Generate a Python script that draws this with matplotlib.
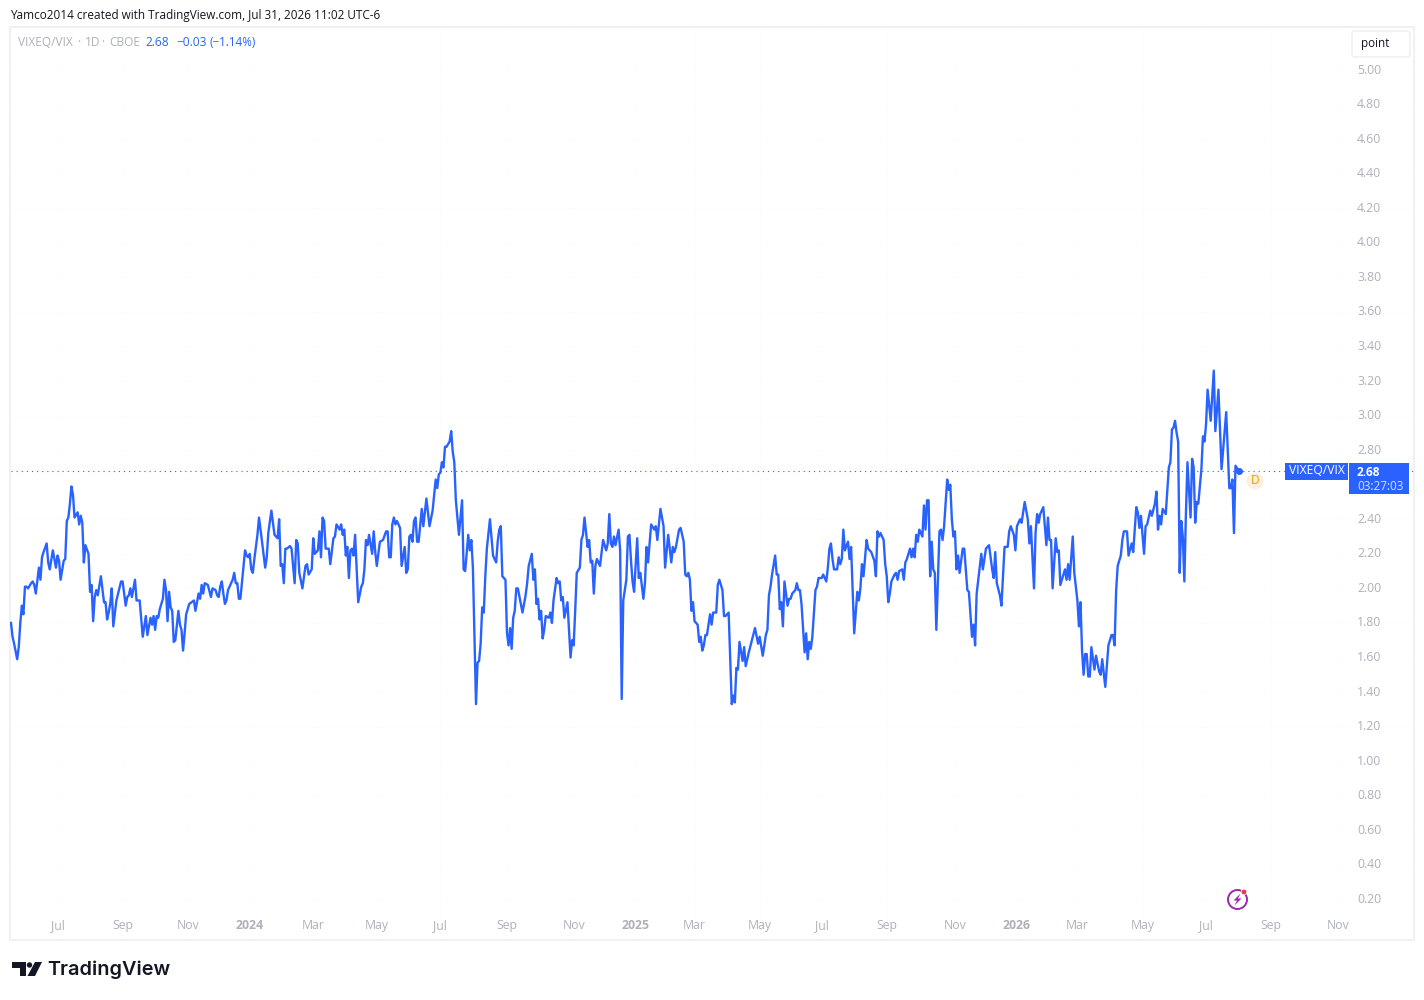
import numpy as np
from matplotlib import pyplot as plt
from matplotlib.patches import Rectangle, FancyBboxPatch, Circle, Polygon

plt.rcParams['font.family'] = ['Open Sans', 'DejaVu Sans']

# values, session number = trading days since the first bar
sessions_a = [
    0, 1, 2, 4, 5, 6, 7, 8, 9, 10,
    11, 13, 14, 15, 16, 18, 19, 20, 21, 23,
    24, 25, 27, 29, 30, 31, 32, 34, 35, 36,
    37, 38, 39, 40, 41, 43, 44, 45, 46, 47,
    48, 50, 51, 52, 53, 54, 55, 56, 58, 60,
    61, 62, 63, 64, 65, 66, 68, 71, 72, 74,
    75, 76, 77, 78, 80, 81, 83, 85, 87, 88,
    90, 91, 92, 93, 94, 95, 96, 98, 99, 100,
    101, 102, 103, 104, 105, 106, 108, 109, 110, 111,
    112, 113, 115, 118, 119, 121, 122, 123, 124, 125,
    127, 129, 130, 132, 133, 134, 135, 136, 137, 138,
    139, 140, 143, 144, 145, 146, 147, 148, 151, 152,
    153, 154, 155, 156, 157, 158, 159, 160, 161, 163,
    164, 165, 166, 168, 170, 171, 172, 173, 174, 175,
    176, 177, 178, 180, 181, 183, 184, 185, 186, 188,
    190, 191, 192, 194, 195, 196, 198, 199, 200, 201,
    202, 203, 205, 206, 208, 209, 210, 212, 213, 214,
    215, 216, 217, 218, 219, 220, 221, 222, 224, 226,
    227, 228, 229, 230, 231, 233, 234, 235, 236, 238,
    240, 242, 243, 244, 245, 246, 247, 248, 249, 251,
    252, 254, 255, 256, 257, 258, 259, 260, 261, 262,
    263, 265, 266, 268, 270, 272, 274, 275, 276, 277,
    278, 279, 280, 281, 283, 284, 285, 286, 287, 289,
    291, 292, 293, 295, 296, 297, 298, 300, 301, 302,
]
close_a = [
    1.80, 1.72, 1.68, 1.59, 1.66, 1.80, 1.90, 1.85, 2.01, 2.01,
    2.00, 2.03, 2.04, 2.02, 1.97, 2.12, 2.05, 2.18, 2.21, 2.26,
    2.15, 2.11, 2.22, 2.12, 2.19, 2.16, 2.05, 2.16, 2.17, 2.39,
    2.41, 2.49, 2.59, 2.54, 2.41, 2.44, 2.37, 2.42, 2.38, 2.15,
    2.25, 2.20, 1.98, 2.02, 1.81, 1.95, 1.99, 1.96, 2.07, 1.92,
    1.92, 1.82, 1.86, 1.91, 2.00, 1.78, 1.93, 2.04, 2.04, 1.90,
    1.95, 1.96, 2.00, 1.95, 2.05, 1.93, 1.93, 1.72, 1.84, 1.73,
    1.83, 1.79, 1.84, 1.76, 1.84, 1.83, 1.88, 1.94, 2.05, 1.99,
    1.81, 1.98, 1.89, 1.87, 1.69, 1.70, 1.87, 1.79, 1.76, 1.64,
    1.74, 1.85, 1.91, 1.93, 1.87, 1.97, 1.94, 2.02, 1.97, 2.03,
    2.02, 1.95, 2.00, 1.99, 1.96, 1.95, 2.01, 2.04, 1.97, 1.91,
    1.93, 1.99, 2.05, 2.09, 2.03, 2.03, 1.94, 1.94, 2.22, 2.19,
    2.18, 2.20, 2.11, 2.09, 2.17, 2.24, 2.31, 2.41, 2.34, 2.19,
    2.12, 2.18, 2.32, 2.45, 2.31, 2.30, 2.29, 2.40, 2.13, 2.14,
    2.03, 2.23, 2.23, 2.245, 2.23, 2.03, 2.28, 2.26, 2.09, 2.00,
    2.13, 2.14, 2.08, 2.11, 2.29, 2.20, 2.22, 2.33, 2.18, 2.41,
    2.39, 2.23, 2.23, 2.14, 2.29, 2.30, 2.37, 2.34, 2.37, 2.31,
    2.34, 2.19, 2.24, 2.06, 2.22, 2.23, 2.19, 2.31, 1.92, 2.01,
    2.03, 2.11, 2.28, 2.25, 2.31, 2.20, 2.33, 2.21, 2.13, 2.27,
    2.28, 2.33, 2.33, 2.18, 2.18, 2.37, 2.41, 2.37, 2.39, 2.35,
    2.13, 2.24, 2.09, 2.11, 2.30, 2.31, 2.27, 2.39, 2.41, 2.27,
    2.27, 2.46, 2.36, 2.52, 2.36, 2.45, 2.63, 2.58, 2.66, 2.67,
    2.73, 2.70, 2.82, 2.82, 2.85, 2.91, 2.79, 2.73, 2.51, 2.31,
    2.51, 2.11, 2.10, 2.31, 2.22, 2.28, 2.12, 1.33, 1.57, 1.58,
]

sessions_b = [
    303, 304, 305, 306, 307, 309, 311, 313, 314, 315,
    316, 317, 319, 320, 321, 322, 323, 324, 325, 326,
    327, 330, 332, 333, 334, 336, 337, 338, 339, 340,
    341, 342, 343, 344, 345, 347, 348, 349, 350, 352,
    353, 354, 355, 356, 357, 359, 361, 362, 363, 364,
    365, 367, 368, 369, 370, 372, 373, 374, 375, 376,
    377, 378, 380, 382, 383, 384, 385, 386, 387, 388,
    389, 390, 392, 393, 394, 395, 397, 398, 399, 400,
    401, 402, 404, 405, 406, 408, 409, 410, 411, 413,
    415, 416, 417, 419, 421, 422, 424, 426, 427, 428,
    429, 431, 432, 434, 435, 436, 437, 438, 439, 440,
    441, 443, 444, 445, 446, 447, 448, 449, 451, 452,
    453, 455, 456, 457, 459, 460, 461, 463, 465, 466,
    467, 468, 469, 470, 472, 473, 474, 476, 478, 480,
    482, 483, 485, 487, 488, 489, 490, 491, 493, 494,
    495, 496, 497, 498, 499, 501, 502, 503, 504, 506,
]
close_b = [
    1.68, 1.89, 1.86, 2.07, 2.23, 2.40, 2.19, 2.15, 2.27, 2.34,
    2.36, 2.07, 2.05, 1.74, 1.67, 1.77, 1.65, 1.83, 1.87, 2.00,
    2.00, 1.86, 1.96, 2.03, 2.13, 2.20, 2.05, 2.11, 1.91, 1.94,
    1.82, 1.87, 1.71, 1.76, 1.84, 1.83, 1.86, 1.80, 1.93, 2.06,
    2.03, 2.04, 1.93, 1.95, 1.83, 1.92, 1.60, 1.70, 1.67, 1.87,
    2.09, 2.12, 2.28, 2.31, 2.41, 2.24, 2.28, 2.15, 2.16, 1.97,
    2.13, 2.17, 2.13, 2.28, 2.25, 2.22, 2.26, 2.43, 2.26, 2.24,
    2.30, 2.25, 2.34, 2.22, 1.36, 1.93, 2.05, 2.30, 2.31, 2.16,
    2.04, 1.98, 2.29, 2.06, 2.09, 1.94, 2.03, 2.24, 2.15, 2.37,
    2.34, 2.36, 2.28, 2.46, 2.36, 2.12, 2.31, 2.15, 2.24, 2.21,
    2.24, 2.34, 2.35, 2.27, 2.08, 2.07, 2.09, 2.05, 1.87, 1.92,
    1.81, 1.79, 1.69, 1.72, 1.64, 1.67, 1.73, 1.73, 1.85, 1.79,
    1.86, 1.86, 2.02, 2.05, 1.99, 1.84, 1.84, 1.86, 1.33, 1.38,
    1.34, 1.54, 1.53, 1.69, 1.58, 1.66, 1.55, 1.63, 1.70, 1.77,
    1.68, 1.72, 1.61, 1.73, 1.76, 1.96, 2.01, 2.08, 2.19, 2.08,
    2.08, 1.88, 1.92, 1.78, 2.04, 1.90, 1.94, 1.94, 1.97, 1.99,
]

sessions_c = [
    507, 508, 509, 510, 512, 513, 514, 515, 516, 517,
    519, 520, 521, 523, 524, 526, 527, 528, 529, 530,
    531, 533, 534, 535, 536, 537, 538, 540, 541, 542,
    544, 546, 547, 548, 549, 550, 552, 553, 555, 557,
    558, 559, 560, 561, 563, 564, 565, 566, 567, 568,
    570, 571, 572, 573, 575, 576, 577, 578, 580, 581,
    582, 583, 584, 585, 586, 588, 589, 590, 591, 592,
    593, 594, 595, 596, 597, 599, 600, 601, 602, 604,
    605, 606, 607, 608, 609, 610, 611, 612, 614, 615,
    617, 618, 620, 621, 622, 623, 625, 626, 627, 629,
    631, 633, 634, 635, 636, 638, 639, 641, 643, 644,
    645, 647, 648, 649, 651, 652, 654, 656, 657, 658,
    660, 661, 662, 663, 664, 666, 668, 669, 670, 671,
    672, 674, 675, 676, 677, 680, 681, 682, 683, 685,
    686, 688, 689, 690, 691, 692, 693, 694, 695, 696,
]
close_c = [
    2.03, 1.99, 1.99, 1.91, 1.63, 1.74, 1.59, 1.69, 1.65, 1.72,
    1.99, 2.01, 2.06, 2.06, 2.08, 2.04, 2.12, 2.23, 2.26, 2.17,
    2.11, 2.11, 2.18, 2.14, 2.17, 2.34, 2.22, 2.27, 2.17, 2.24,
    1.74, 1.98, 1.93, 2.00, 2.14, 2.07, 2.28, 2.23, 2.21, 2.16,
    2.07, 2.33, 2.30, 2.32, 2.28, 2.14, 2.07, 1.92, 1.97, 2.04,
    2.08, 2.09, 2.05, 2.10, 2.11, 2.05, 2.15, 2.17, 2.23, 2.18,
    2.23, 2.18, 2.31, 2.27, 2.34, 2.30, 2.48, 2.34, 2.51, 2.51,
    2.07, 2.27, 2.11, 2.09, 1.76, 2.33, 2.34, 2.28, 2.36, 2.63,
    2.57, 2.60, 2.40, 2.30, 2.33, 2.11, 2.19, 2.09, 2.23, 2.23,
    1.99, 1.98, 1.72, 1.79, 1.67, 1.97, 2.12, 2.20, 2.11, 2.23,
    2.25, 2.11, 2.06, 2.21, 2.03, 1.96, 1.90, 2.24, 2.24, 2.33,
    2.36, 2.31, 2.22, 2.36, 2.40, 2.38, 2.50, 2.40, 2.26, 2.36,
    2.00, 2.32, 2.43, 2.38, 2.43, 2.47, 2.25, 2.41, 2.28, 2.28,
    2.00, 2.29, 2.21, 2.22, 2.02, 2.11, 2.05, 2.14, 2.05, 2.30,
    2.09, 1.93, 1.78, 1.92, 1.64, 1.50, 1.62, 1.62, 1.49, 1.49,
]

sessions_d = [
    697, 699, 700, 702, 703, 704, 706, 708, 710, 711,
    712, 713, 714, 716, 717, 718, 720, 721, 723, 724,
    726, 727, 728, 729, 731, 732, 733, 735, 736, 738,
    739, 740, 741, 742, 743, 745, 746, 747, 748, 749,
    750, 751, 752, 753, 754, 755, 756, 757, 758, 759,
    761, 762, 763, 764, 765, 766, 768, 769, 770, 771,
    772, 774, 776, 777, 779, 781, 784, 786, 787, 788,
    789, 790, 792,
]
close_d = [
    1.66, 1.53, 1.61, 1.52, 1.50, 1.59, 1.43, 1.67, 1.73, 1.73,
    1.67, 1.99, 2.13, 2.19, 2.28, 2.33, 2.33, 2.19, 2.26, 2.21,
    2.47, 2.44, 2.35, 2.42, 2.20, 2.36, 2.37, 2.45, 2.42, 2.49,
    2.56, 2.34, 2.42, 2.37, 2.46, 2.43, 2.57, 2.70, 2.73, 2.92,
    2.93, 2.97, 2.90, 2.85, 2.09, 2.39, 2.30, 2.04, 2.43, 2.73,
    2.41, 2.75, 2.70, 2.38, 2.50, 2.49, 2.69, 2.88, 2.85, 2.95,
    3.15, 2.97, 3.26, 2.91, 3.15, 2.69, 3.02, 2.58, 2.58, 2.63,
    2.32, 2.71, 2.68,
]

# 2.60 is covered by the last price label on the chart, so it has no text
price_ticks = [0.20, 0.40, 0.60, 0.80, 1.00, 1.20, 1.40, 1.60, 1.80, 2.00, 2.20, 2.40,
               2.80, 3.00, 3.20, 3.40, 3.60, 3.80, 4.00, 4.20, 4.40, 4.60, 4.80, 5.00]
time_ticks = [30, 72, 114, 154, 195, 236, 277, 320, 363, 403, 441,
              483, 523, 565, 609, 649, 688, 730, 771, 813, 856]
time_labels = ['Jul', 'Sep', 'Nov', '2024', 'Mar', 'May', 'Jul', 'Sep', 'Nov', '2025', 'Mar',
               'May', 'Jul', 'Sep', 'Nov', '2026', 'Mar', 'May', 'Jul', 'Sep', 'Nov']
last_price = 2.68

sessions = np.array(sessions_a + sessions_b + sessions_c + sessions_d)
closes = np.array(close_a + close_b + close_c + close_d)

BLUE = '#2962ff'
GRAY = '#aeb1ba'
DARK = '#131722'

W, H = 1424, 1000
fig = plt.figure(figsize=(W / 100, H / 100), dpi=100)

# chart pane, frame at x 10-1414 and y 27-940
ax = fig.add_axes([10 / W, 1 - 940 / H, 1404 / W, 913 / H])
ax.set_xlim((10 - 11) / 1.55, (1414 - 11) / 1.55)
ax.set_ylim(-0.035, 5.249)
ax.plot(sessions, closes, color=BLUE, lw=1.7, solid_joinstyle='round', zorder=3)
ax.plot(sessions[-1], last_price, 'o', color=BLUE, ms=4, zorder=4)
ax.plot([sessions[0], 1229], [last_price, last_price], color=BLUE, lw=0.8,
        linestyle=(0, (1, 3.6)), zorder=2)

ax.yaxis.tick_right()
ax.set_yticks(price_ticks)
ax.set_yticklabels(['%.2f' % p for p in price_ticks])
ax.set_xticks(time_ticks)
ax.set_xticklabels(time_labels)
ax.tick_params(axis='y', length=0, pad=-41, labelsize=8.8, labelcolor=GRAY)
ax.tick_params(axis='x', length=0, pad=-15, labelsize=8.8, labelcolor=GRAY)
for lab in ax.get_yticklabels():
    lab.set_verticalalignment('center')
for lab in ax.get_xticklabels():
    if lab.get_text().startswith('20'):
        lab.set_fontweight('bold')
ax.grid(True, color='#fdfdfd', lw=0.7)
ax.set_axisbelow(True)
for s in ax.spines.values():
    s.set_color('#f0f1f3')
    s.set_linewidth(1.5)

# overlay in pixel coordinates for the labels, badges and logo
ov = fig.add_axes([0, 0, 1, 1], facecolor='none')
ov.set_xlim(0, W)
ov.set_ylim(H, 0)
ov.axis('off')

ov.text(10, 15, 'Yamco2014 created with TradingView.com, Jul 31, 2026 11:02 UTC-6',
        color=DARK, fontsize=8.48, va='center')
ov.text(18, 42, 'VIXEQ/VIX', color=GRAY, fontsize=8.6, va='center')
ov.text(77, 42, '·', color=GRAY, fontsize=8.6, va='center')
ov.text(85, 42, '1D', color=GRAY, fontsize=8.6, va='center')
ov.text(101, 42, '·', color=GRAY, fontsize=8.6, va='center')
ov.text(109, 42, 'CBOE', color=GRAY, fontsize=8.6, va='center')
ov.text(145, 42, '2.68', color=BLUE, fontsize=8.6, va='center')
ov.text(176, 42, '−0.03', color=BLUE, fontsize=8.6, va='center')
ov.text(210, 42, '(−1.14%)', color=BLUE, fontsize=8.4, va='center')

ov.add_patch(FancyBboxPatch((1352, 31), 58, 26, boxstyle='round,pad=0,rounding_size=3',
                            fc='white', ec='#f0f1f3', lw=1.2, mutation_aspect=1))
ov.text(1375, 44, 'point', color=DARK, fontsize=8.4, ha='center', va='center')

ov.add_patch(Rectangle((1285, 463), 63, 17, fc=BLUE, ec='none'))
ov.text(1316.5, 471, 'VIXEQ/VIX', color='white', fontsize=8.7, ha='center', va='center')
ov.add_patch(Rectangle((1349, 463), 60, 31, fc=BLUE, ec='none'))
ov.text(1357, 472, '2.68', color='white', fontsize=8.6, fontweight='bold', va='center')
ov.text(1357, 486, '03:27:03', color='#d4dfff', fontsize=8.4, va='center')

ov.add_patch(Circle((1255, 481), 8.5, fc='#fdf0dd', ec='none'))
ov.text(1255, 481, 'D', color='#ff9800', fontsize=8.6, ha='center', va='center')

# lightning badge
ov.add_patch(Circle((1237.5, 899.5), 9.5, fc='white', ec='#9c27b0', lw=1.4))
ov.add_patch(Polygon([(1240.5, 893.5), (1233.5, 900.5), (1237, 900.5), (1234.5, 905.5),
                      (1241.5, 898.5), (1238, 898.5)], fc='#9c27b0', ec='none'))
ov.add_patch(Circle((1244, 892), 2.8, fc='#f23645', ec='white', lw=0.5))

# TradingView logo
ov.add_patch(Polygon([(12, 962), (26, 962), (26, 976), (20, 976), (20, 968), (12, 968)],
                     fc=DARK, ec='none'))
ov.add_patch(Circle((29.5, 965), 2.7, fc=DARK, ec='none'))
ov.add_patch(Polygon([(35, 962), (42, 962), (35, 976), (27.5, 976)], fc=DARK, ec='none'))
ov.text(47.5, 970, 'TradingView', color=DARK, fontsize=14.3, fontweight='semibold', va='center',
        family=['Inter', 'DejaVu Sans'])

fig.savefig('out.png', dpi=100)
